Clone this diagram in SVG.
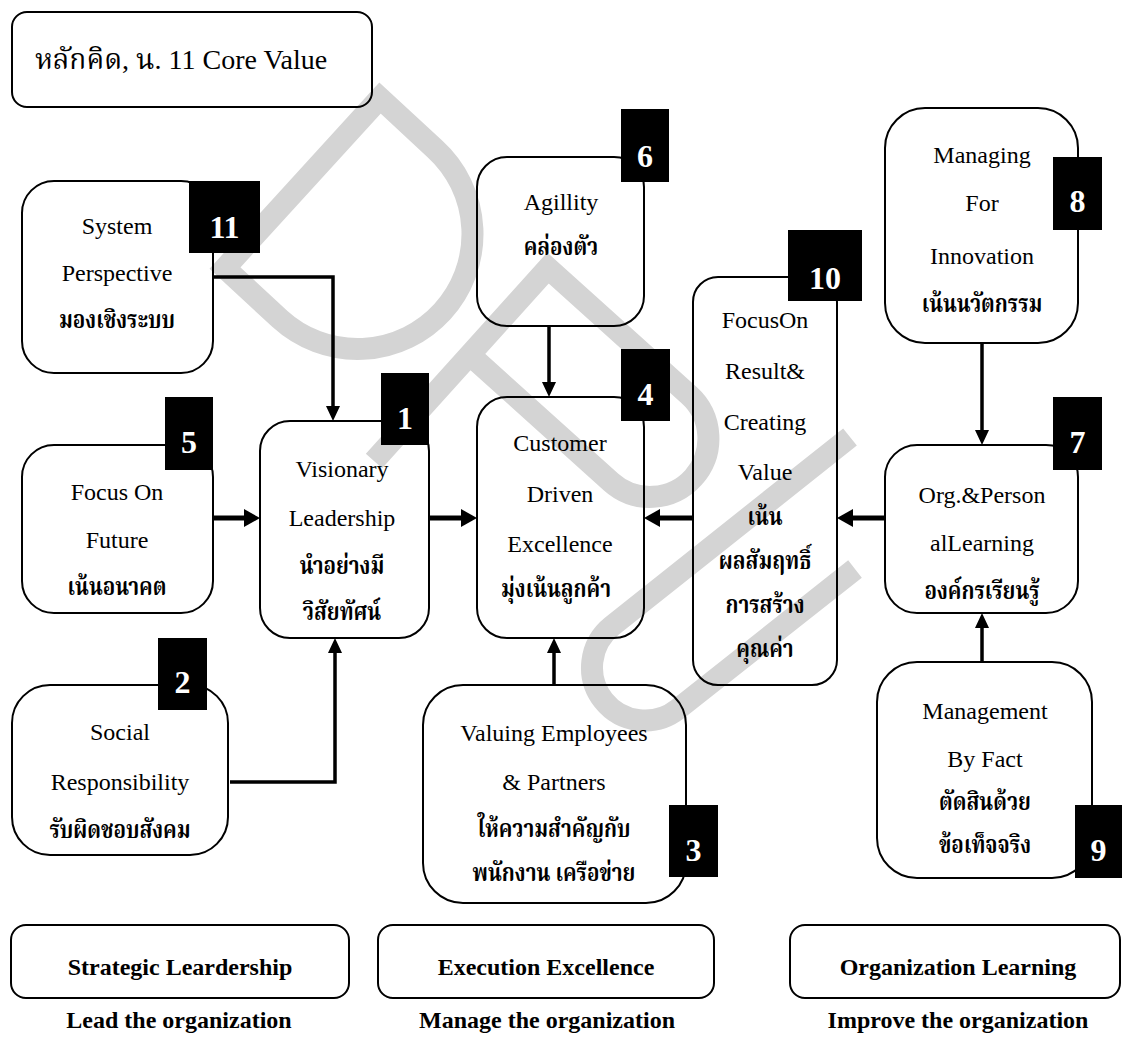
<svg xmlns="http://www.w3.org/2000/svg" width="1122" height="1053" viewBox="0 0 1122 1053">
  <style>
    .box { fill: none; stroke: #000; stroke-width: 2; }
    .tag { fill: #000; }
    .num { font-family: "Liberation Serif", serif; font-weight: bold; font-size: 32px; fill: #fff; text-anchor: middle; }
    .en { font-family: "Liberation Serif", serif; font-size: 24px; fill: #000; text-anchor: middle; }
    .th { font-family: "Liberation Serif", "Noto Serif Thai", "Noto Sans Thai", "DejaVu Sans", serif; font-weight: bold; font-size: 24px; fill: #000; text-anchor: middle;
          transform: scaleX(0.86); transform-box: fill-box; transform-origin: center; }
    .title { font-family: "Liberation Serif", "Noto Serif Thai", "Noto Sans Thai", "DejaVu Sans", serif; font-size: 28px; fill: #000; }
    .cat { font-family: "Liberation Serif", serif; font-weight: bold; font-size: 24px; fill: #000; text-anchor: middle; }
    .wm { fill: none; stroke: #d4d4d4; stroke-width: 22; stroke-linejoin: miter; }
    .thick { fill: none; stroke: #000; stroke-width: 5; }
    .thin { fill: none; stroke: #000; stroke-width: 3.5; }
  </style>
  <defs>
    <marker id="headBig" markerUnits="userSpaceOnUse" markerWidth="16" markerHeight="18" refX="0" refY="9" orient="auto">
      <path d="M0,0 L16,9 L0,18 Z" fill="#000"/>
    </marker>
    <marker id="headSmall" markerUnits="userSpaceOnUse" markerWidth="15" markerHeight="14" refX="0" refY="7" orient="auto">
      <path d="M0,0 L15,7 L0,14 Z" fill="#000"/>
    </marker>
  </defs>

  <rect width="1122" height="1053" fill="#fff"/>

  <!-- background watermark letters (D, P, U tilted) -->
  <g id="watermark">
    <path class="wm" d="M380,98 L225,268 L280,319 A115,115 0 0 0 435,149 Z"/>
    <path class="wm" d="M374,461 L548,268 L689,395 A58,58 0 0 1 611,482 L470,355"/>
    <path class="wm" d="M850,437 L612,626 A53,53 0 0 0 678,709 L855,569"/>
  </g>

  <!-- heading -->
  <g id="heading">
    <rect class="box" x="12" y="12" width="360" height="95" rx="15"/>
    <text class="title" x="35" y="69">หลักคิด, น. 11 Core Value</text>
  </g>

  <!-- connectors -->
  <g id="connectors">
    <path class="thin" d="M213,277 H333 V406" marker-end="url(#headSmall)"/>
    <path class="thin" d="M230,782 H335 V653" marker-end="url(#headSmall)"/>
    <path class="thick" d="M213,518 H244" marker-end="url(#headBig)"/>
    <path class="thick" d="M429,518 H461" marker-end="url(#headBig)"/>
    <path class="thick" d="M693,518 H660" marker-end="url(#headBig)"/>
    <path class="thick" d="M885,518 H853" marker-end="url(#headBig)"/>
    <path class="thin" d="M549,326 V382" marker-end="url(#headSmall)"/>
    <path class="thin" d="M554,685 V653" marker-end="url(#headSmall)"/>
    <path class="thin" d="M982,343 V430" marker-end="url(#headSmall)"/>
    <path class="thin" d="M982,662 V628" marker-end="url(#headSmall)"/>
  </g>

  <!-- 11 System Perspective -->
  <g id="n11">
    <rect class="box" x="22" y="181" width="191" height="192" rx="32"/>
    <rect class="tag" x="189" y="181" width="71" height="72"/>
    <text class="num" x="224.5" y="238">11</text>
    <text class="en" x="117" y="234">System</text>
    <text class="en" x="117" y="281">Perspective</text>
    <text class="th" x="117" y="328">มองเชิงระบบ</text>
  </g>

  <!-- 6 Agillity -->
  <g id="n6">
    <rect class="box" x="477" y="157" width="167" height="169" rx="30"/>
    <rect class="tag" x="621" y="109" width="48" height="73"/>
    <text class="num" x="645" y="167">6</text>
    <text class="en" x="561" y="210">Agillity</text>
    <text class="th" x="561" y="255">คล่องตัว</text>
  </g>

  <!-- 8 Managing For Innovation -->
  <g id="n8">
    <rect class="box" x="885" y="108" width="193" height="235" rx="40"/>
    <rect class="tag" x="1053" y="157" width="49" height="73"/>
    <text class="num" x="1077.5" y="212">8</text>
    <text class="en" x="982" y="163">Managing</text>
    <text class="en" x="982" y="211">For</text>
    <text class="en" x="982" y="264">Innovation</text>
    <text class="th" x="982" y="312">เน้นนวัตกรรม</text>
  </g>

  <!-- 10 Focus On Result & Creating Value -->
  <g id="n10">
    <rect class="box" x="693" y="277" width="144" height="408" rx="25"/>
    <rect class="tag" x="788" y="230" width="74" height="71"/>
    <text class="num" x="825" y="289">10</text>
    <text class="en" x="765" y="328">FocusOn</text>
    <text class="en" x="765" y="379">Result&amp;</text>
    <text class="en" x="765" y="430">Creating</text>
    <text class="en" x="765" y="480">Value</text>
    <text class="th" x="765" y="525">เน้น</text>
    <text class="th" x="765" y="569">ผลสัมฤทธิ์</text>
    <text class="th" x="765" y="613">การสร้าง</text>
    <text class="th" x="765" y="657">คุณค่า</text>
  </g>

  <!-- 5 Focus On Future -->
  <g id="n5">
    <rect class="box" x="22" y="445" width="191" height="168" rx="32"/>
    <rect class="tag" x="165" y="397" width="48" height="73"/>
    <text class="num" x="189" y="453">5</text>
    <text class="en" x="117" y="500">Focus On</text>
    <text class="en" x="117" y="548">Future</text>
    <text class="th" x="117" y="595">เน้นอนาคต</text>
  </g>

  <!-- 1 Visionary Leadership -->
  <g id="n1">
    <rect class="box" x="260" y="421" width="169" height="217" rx="30"/>
    <rect class="tag" x="381" y="373" width="48" height="72"/>
    <text class="num" x="405" y="429">1</text>
    <text class="en" x="342" y="477">Visionary</text>
    <text class="en" x="342" y="526">Leadership</text>
    <text class="th" x="342" y="574">นำอย่างมี</text>
    <text class="th" x="342" y="620">วิสัยทัศน์</text>
  </g>

  <!-- 4 Customer Driven Excellence -->
  <g id="n4">
    <rect class="box" x="477" y="397" width="167" height="241" rx="30"/>
    <rect class="tag" x="621" y="349" width="49" height="72"/>
    <text class="num" x="645.5" y="405">4</text>
    <text class="en" x="560" y="451">Customer</text>
    <text class="en" x="560" y="502">Driven</text>
    <text class="en" x="560" y="552">Excellence</text>
    <text class="th" x="556" y="597">มุ่งเน้นลูกค้า</text>
  </g>

  <!-- 7 Org. & Personal Learning -->
  <g id="n7">
    <rect class="box" x="885" y="445" width="193" height="168" rx="32"/>
    <rect class="tag" x="1053" y="397" width="49" height="73"/>
    <text class="num" x="1077.5" y="453">7</text>
    <text class="en" x="982" y="503">Org.&amp;Person</text>
    <text class="en" x="982" y="551">alLearning</text>
    <text class="th" x="982" y="599">องค์กรเรียนรู้</text>
  </g>

  <!-- 2 Social Responsibility -->
  <g id="n2">
    <rect class="box" x="12" y="685" width="216" height="170" rx="38"/>
    <rect class="tag" x="158" y="638" width="49" height="72"/>
    <text class="num" x="182.5" y="693">2</text>
    <text class="en" x="120" y="740">Social</text>
    <text class="en" x="120" y="790">Responsibility</text>
    <text class="th" x="120" y="838">รับผิดชอบสังคม</text>
  </g>

  <!-- 3 Valuing Employees & Partners -->
  <g id="n3">
    <rect class="box" x="423" y="685" width="263" height="218" rx="40"/>
    <rect class="tag" x="669" y="805" width="49" height="72"/>
    <text class="num" x="693.5" y="861">3</text>
    <text class="en" x="554" y="741">Valuing Employees</text>
    <text class="en" x="554" y="790">&amp; Partners</text>
    <text class="th" x="554" y="837">ให้ความสำคัญกับ</text>
    <text class="th" x="554" y="881">พนักงาน เครือข่าย</text>
  </g>

  <!-- 9 Management By Fact -->
  <g id="n9">
    <rect class="box" x="877" y="662" width="215" height="216" rx="40"/>
    <rect class="tag" x="1075" y="805" width="47" height="73"/>
    <text class="num" x="1098.5" y="861">9</text>
    <text class="en" x="985" y="719">Management</text>
    <text class="en" x="985" y="767">By Fact</text>
    <text class="th" x="985" y="810">ตัดสินด้วย</text>
    <text class="th" x="985" y="853">ข้อเท็จจริง</text>
  </g>

  <!-- categories -->
  <g id="cat-strategic">
    <rect class="box" x="11" y="925" width="338" height="73" rx="15"/>
    <text class="cat" x="180" y="975">Strategic Leardership</text>
    <text class="cat" x="179" y="1028">Lead the organization</text>
  </g>
  <g id="cat-execution">
    <rect class="box" x="378" y="925" width="336" height="73" rx="15"/>
    <text class="cat" x="546" y="975">Execution Excellence</text>
    <text class="cat" x="547" y="1028">Manage the organization</text>
  </g>
  <g id="cat-learning">
    <rect class="box" x="790" y="925" width="330" height="73" rx="15"/>
    <text class="cat" x="958" y="975">Organization Learning</text>
    <text class="cat" x="958" y="1028">Improve the organization</text>
  </g>
</svg>
